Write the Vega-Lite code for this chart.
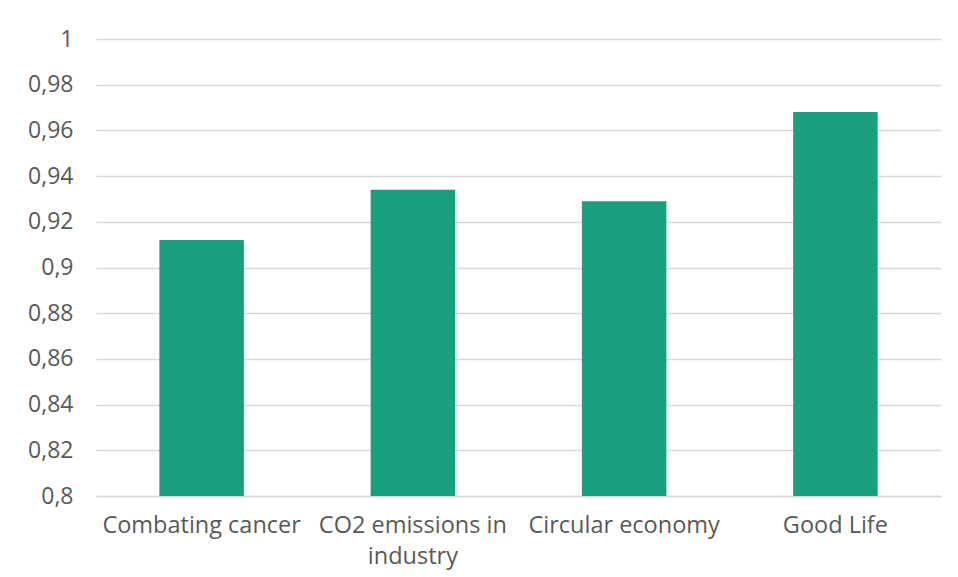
{
  "$schema": "https://vega.github.io/schema/vega-lite/v6.json",
  "autosize": "none",
  "width": 845,
  "height": 457,
  "padding": {"left": 96, "top": 39, "right": 17, "bottom": 81},
  "background": "white",
  "data": {"values": [
    {"topic": "Combating cancer", "value": 0.912},
    {"topic": "CO2 emissions in industry", "value": 0.934},
    {"topic": "Circular economy", "value": 0.929},
    {"topic": "Good Life", "value": 0.968}
  ]},
  "mark": {"type": "bar", "color": "#199E7E", "clip": true},
  "encoding": {
    "x": {
      "field": "topic", "type": "nominal", "sort": null,
      "scale": {"paddingInner": 0.6, "paddingOuter": 0.3},
      "axis": {
        "title": null, "labelAngle": 0, "ticks": false,
        "domainColor": "#D9D9D9", "domainWidth": 1.5,
        "labelFont": "Open Sans", "labelFontSize": 23.5, "labelColor": "#595959",
        "labelPadding": 17, "labelLimit": 300, "labelLineHeight": 31,
        "labelExpr": "datum.label == 'CO2 emissions in industry' ? ['CO2 emissions in', 'industry'] : datum.label"
      }
    },
    "y": {
      "field": "value", "type": "quantitative",
      "scale": {"domain": [0.8, 1], "zero": false, "nice": false},
      "axis": {
        "title": null, "domain": false, "ticks": false,
        "values": [0.8, 0.82, 0.84, 0.86, 0.88, 0.9, 0.92, 0.94, 0.96, 0.98, 1],
        "gridColor": "#D9D9D9", "gridWidth": 1.5,
        "labelFont": "Open Sans", "labelFontSize": 23, "labelColor": "#595959",
        "labelPadding": 23,
        "labelExpr": "replace(format(datum.value, '.2~f'), '.', ',')"
      }
    }
  },
  "config": {"view": {"stroke": null}}
}
